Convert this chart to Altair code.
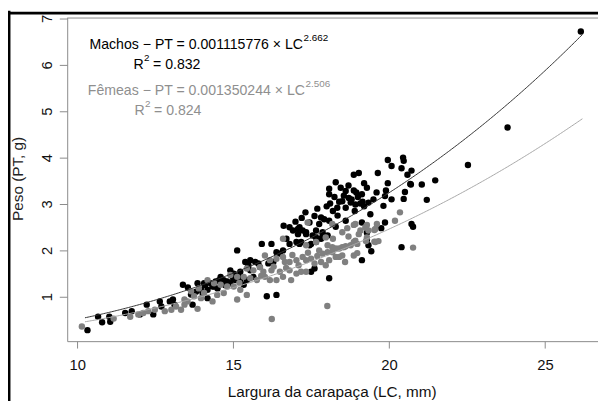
import altair as alt
import pandas as pd

# ---------------- data ----------------
male_lc = [10.33, 10.67, 10.80, 11.03, 11.06, 11.54, 11.75, 12.01, 12.23, 12.44,
           12.65, 12.70, 12.97, 13.07, 13.12, 13.39, 13.70, 13.86, 13.81, 14.02,
           14.18, 14.18, 14.34, 14.44, 14.55, 14.70, 14.81, 14.91, 15.07, 15.23,
           15.34, 15.44, 15.55, 15.13, 15.39, 15.49, 15.65, 15.86, 14.60, 14.28,
           14.07, 13.97, 14.39, 14.91, 15.02, 15.23, 15.55, 15.71, 15.81, 16.13,
           16.29, 16.39, 16.50, 16.60, 16.23, 15.92, 16.71, 16.81, 17.03, 17.18,
           16.62, 16.92, 17.08, 17.23, 17.34, 17.55, 17.87, 17.82, 17.66, 17.50,
           16.08, 16.39, 18.08, 17.61, 17.50, 19.13, 19.43, 19.34, 19.29, 19.29,
           16.81, 17.08, 17.32, 17.61, 17.82, 17.92, 18.08, 17.76, 18.29, 18.61,
           19.13, 19.75, 19.87, 20.72, 20.77, 17.13, 17.34, 17.66, 17.87, 17.66,
           18.03, 17.13, 17.45, 20.40, 19.96, 20.45, 20.47, 20.08, 18.87, 19.03,
           19.64, 18.29, 19.96, 20.68, 18.08, 18.08, 18.61, 18.87, 19.29, 19.90,
           20.51, 19.13, 18.71, 18.50, 18.77, 18.92, 18.11, 18.34, 18.61, 19.08,
           19.34, 20.08, 19.40, 19.82, 19.87, 26.15, 23.80, 22.53, 21.48, 21.05,
           20.70, 20.40, 20.72, 20.59, 20.47, 21.21, 13.55, 13.65, 14.10, 14.50,
           14.75, 15.00, 15.20, 18.40, 18.55, 18.80, 19.00, 19.20, 18.20, 18.90,
           19.50, 18.45, 18.70, 19.20, 17.00, 17.20, 17.45, 18.25, 18.95, 19.15,
           19.60, 18.35, 18.00, 17.70]
male_pt = [0.28, 0.57, 0.45, 0.57, 0.46, 0.65, 0.69, 0.62, 0.83, 0.62,
           0.90, 0.79, 0.90, 0.94, 0.83, 1.26, 0.83, 1.29, 1.11, 1.08,
           1.15, 0.97, 1.22, 1.33, 1.36, 1.36, 1.33, 1.29, 1.36, 1.33,
           1.26, 1.36, 1.57, 2.00, 1.75, 1.68, 1.43, 1.64, 1.43, 1.29,
           1.29, 1.15, 1.22, 1.57, 1.50, 1.54, 1.79, 1.75, 1.72, 1.72,
           1.75, 1.96, 1.93, 2.00, 2.14, 2.14, 2.25, 2.14, 2.18, 2.18,
           2.53, 2.43, 2.35, 2.43, 2.35, 2.32, 2.39, 2.25, 2.18, 2.14,
           1.01, 1.04, 1.40, 1.61, 1.54, 1.79, 1.98, 2.11, 2.23, 2.38,
           2.50, 2.46, 2.82, 2.74, 2.71, 2.67, 2.64, 2.57, 2.51, 2.64,
           2.60, 2.48, 2.60, 2.57, 2.51, 2.50, 2.39, 2.43, 2.32, 2.28,
           2.32, 2.14, 2.11, 2.07, 3.95, 4.00, 3.93, 3.82, 3.63, 3.67,
           3.67, 3.47, 3.45, 3.43, 3.33, 3.21, 3.28, 3.29, 3.35, 3.29,
           3.26, 3.21, 3.13, 3.06, 3.03, 2.99, 3.01, 2.92, 2.92, 3.01,
           3.03, 3.10, 2.78, 2.96, 3.17, 6.72, 4.65, 3.84, 3.51, 3.42,
           3.42, 3.77, 3.72, 3.63, 3.11, 3.09, 1.20, 1.05, 1.25, 1.18,
           1.25, 1.40, 1.45, 3.05, 3.18, 3.10, 3.15, 2.95, 2.85, 2.85,
           3.10, 3.35, 3.40, 3.45, 2.62, 2.70, 2.60, 3.15, 3.25, 3.05,
           3.25, 2.75, 2.95, 2.90]

female_lc = [10.15, 11.17, 11.70, 11.96, 12.12, 12.49, 12.28, 12.81, 13.02, 13.17,
             13.33, 13.44, 13.54, 13.44, 13.86, 13.75, 13.97, 14.34, 16.24, 18.02,
             14.18, 14.39, 14.60, 14.81, 15.02, 15.23, 15.44, 14.70, 14.07, 14.49,
             15.13, 14.91, 15.13, 15.34, 15.55, 15.76, 16.02, 16.18, 16.39, 16.60,
             16.86, 15.44, 15.65, 15.86, 15.97, 16.23, 16.50, 16.81, 17.03, 17.18,
             17.34, 16.02, 16.18, 16.39, 16.60, 16.66, 16.81, 17.03, 17.23, 17.34,
             17.50, 17.61, 17.82, 17.97, 18.08, 17.76, 17.87, 18.03, 18.18, 18.29,
             18.50, 17.34, 17.66, 18.03, 18.18, 18.50, 18.87, 18.98, 16.60, 17.39,
             18.18, 18.66, 18.92, 19.29, 19.61, 18.50, 19.03, 19.34, 17.97, 19.08,
             19.53, 18.92, 19.26, 19.56, 19.66, 18.61, 18.77, 18.29, 20.77, 20.35,
             20.19, 19.29, 19.53, 18.55, 18.40, 18.98, 18.87, 18.40, 18.59, 13.65,
             13.90, 18.87, 19.24, 19.56, 15.90, 16.30, 16.70, 17.10, 17.40, 17.70,
             18.20, 18.70, 16.90, 15.20]
female_pt = [0.36, 0.53, 0.57, 0.62, 0.65, 0.72, 0.69, 0.69, 0.72, 0.79,
             0.72, 0.83, 0.90, 0.94, 0.74, 1.01, 0.97, 0.90, 0.52, 0.80,
             1.36, 1.29, 1.26, 1.22, 1.22, 1.15, 1.04, 1.08, 1.08, 1.04,
             0.94, 1.47, 1.43, 1.43, 1.40, 1.36, 1.43, 1.36, 1.36, 1.43,
             1.36, 1.61, 1.57, 1.64, 1.54, 1.57, 1.54, 1.57, 1.50, 1.54,
             1.54, 1.89, 1.79, 1.82, 1.86, 1.75, 1.75, 1.79, 1.86, 1.79,
             1.82, 1.72, 1.75, 1.68, 1.79, 2.00, 1.93, 1.96, 1.96, 1.86,
             1.89, 2.11, 2.18, 2.11, 2.07, 2.07, 2.18, 2.14, 2.25, 2.60,
             2.57, 2.48, 2.57, 2.55, 2.57, 2.39, 2.35, 2.43, 2.28, 2.43,
             2.44, 2.21, 2.20, 2.18, 2.20, 2.09, 2.11, 2.04, 2.06, 2.82,
             2.64, 2.28, 2.19, 2.07, 2.04, 1.94, 1.89, 1.86, 1.75, 1.12,
             1.18, 2.55, 2.50, 2.46, 1.45, 1.65, 1.62, 1.68, 1.95, 1.88,
             2.25, 2.30, 1.90, 1.30]

# fitted power models PT = a * LC^b, drawn over this LC range
model_a = [0.001115776, 0.001350244]      # Machos, Fêmeas
model_b = [2.662, 2.506]
model_r2 = ["0.832", "0.824"]
model_label = ["Machos", "Fêmeas"]
model_coef_text = ["0.001115776", "0.001350244"]
lc_range = [10.25, 26.2]

x_ticks = [10, 15, 20, 25]
y_ticks = [1, 2, 3, 4, 5, 6, 7]
x_title = "Largura da carapaça (LC, mm)"
y_title = "Peso (PT, g)"

# ---------------- styling ----------------
FONT = "Liberation Sans"
GREY_AX = "#8a8a8a"
MALE_COL = "#000000"
FEM_COL = "#808080"
MALE_LINE = "#333333"
FEM_LINE = "#a8a8a8"
FEM_TEXT = "#8f8f8f"
PT_SIZE = 42

male = pd.DataFrame({"LC": male_lc, "PT": male_pt})
female = pd.DataFrame({"LC": female_lc, "PT": female_pt})
dummy = pd.DataFrame({"d": [0]})

x_scale = alt.Scale(domain=[9.68, 26.70], nice=False, zero=False)
y_scale = alt.Scale(domain=[0.043, 7.02], nice=False, zero=False)

x_axis = alt.Axis(values=x_ticks, title=x_title, grid=False,
                  domainColor=GREY_AX, tickColor=GREY_AX, tickSize=7,
                  labelFont=FONT, labelFontSize=15, labelColor="#111111",
                  labelBaseline="middle", labelPadding=17, labelFlush=False,
                  titleFont=FONT, titleFontSize=15.5, titleFontWeight="normal",
                  titleColor="#111111", titleX=268, titleY=56,
                  titleAlign="center", titleBaseline="alphabetic")
y_axis = alt.Axis(values=y_ticks, title=y_title, grid=False,
                  domainColor=GREY_AX, tickColor=GREY_AX, tickSize=8,
                  labelFont=FONT, labelFontSize=15, labelColor="#111111",
                  labelAngle=270, labelAlign="center", labelBaseline="middle",
                  labelPadding=13, labelFlush=False,
                  titleFont=FONT, titleFontSize=15.5, titleFontWeight="normal",
                  titleColor="#222222", titleAngle=270, titleX=-50, titleY=163,
                  titleAlign="center", titleBaseline="middle")

X = alt.X("LC:Q", scale=x_scale, axis=x_axis)
Y = alt.Y("PT:Q", scale=y_scale, axis=y_axis)

layers = []

# outer black frame of the original figure + grey top edge of the plot box
layers.append(alt.Chart(dummy).mark_rule(color="black", strokeWidth=3).encode(
    x=alt.value(-59), y=alt.value(-7), y2=alt.value(392)))
layers.append(alt.Chart(dummy).mark_rule(color="black", strokeWidth=3).encode(
    x=alt.value(-60.5), x2=alt.value(545), y=alt.value(-4.5)))
layers.append(alt.Chart(dummy).mark_rule(color=GREY_AX, strokeWidth=1).encode(
    x=alt.value(0), x2=alt.value(545), y=alt.value(0.5)))

# points
layers.append(alt.Chart(male).mark_circle(size=PT_SIZE, color=MALE_COL, opacity=1).encode(x=X, y=Y))
layers.append(alt.Chart(female).mark_circle(size=PT_SIZE, color=FEM_COL, opacity=1).encode(x=X, y=Y))

# fitted curves
for a, b, col in zip(model_a, model_b, [MALE_LINE, FEM_LINE]):
    layers.append(
        alt.Chart(alt.sequence(lc_range[0], lc_range[1] + 0.001, 0.05, as_="LC"))
        .transform_calculate(PT=f"{a} * pow(datum.LC, {b})")
        .mark_line(color=col, strokeWidth=1)
        .encode(x=X, y=Y)
    )


def txt(s, x, y, size, color, align):
    return alt.Chart(dummy).mark_text(
        text=s, font=FONT, fontSize=size, color=color, align=align, baseline="middle"
    ).encode(x=alt.value(x), y=alt.value(y))


# equation annotations
rows = [
    # (main right edge, y main, R-line y, colour)
    (239, 28, 48, "#000000"),
    (241, 74, 95, FEM_TEXT),
]
for i, (xr, ym, yr, col) in enumerate(rows):
    main = f"{model_label[i]} \u2212 PT = {model_coef_text[i]} \u00d7 LC"
    layers.append(txt(main, xr, ym, 14.3, col, "right"))
    layers.append(txt(f"{model_b[i]:.3f}", xr + 0.5, ym - 7, 10, col, "left"))
    layers.append(txt("R", 77.5 + i, yr, 14.3, col, "right"))
    layers.append(txt("2", 77.8 + i, yr - 7, 10, col, "left"))
    layers.append(txt(f"= {model_r2[i]}", 87 + i, yr, 14.3, col, "left"))

chart = alt.layer(*layers).properties(
    width=538, height=328,
    padding={"left": 60, "top": 7, "right": 0, "bottom": 60},
    autosize=alt.AutoSizeParams(type="none"),
    background="white",
).configure_view(stroke=None)

chart.save("out.html", embed_options={"renderer": "svg", "actions": False})
